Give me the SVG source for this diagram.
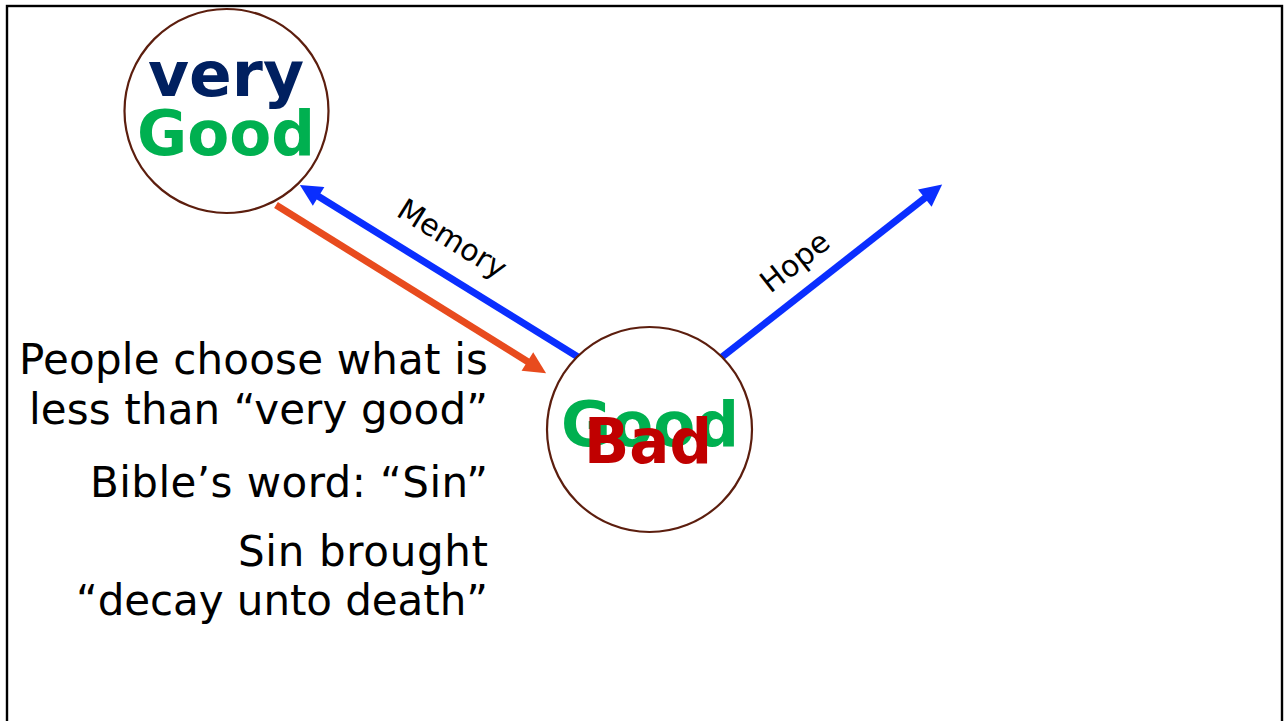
<svg xmlns="http://www.w3.org/2000/svg" width="1286" height="721" viewBox="0 0 1286 721">
  <style>
    .node { fill: #ffffff; stroke: #5c1e0e; stroke-width: 2.2; }
    .big { font-family: "DejaVu Sans", Verdana, sans-serif; font-weight: bold; font-size: 62px; text-anchor: middle; }
    .lbl { font-family: "DejaVu Sans", Verdana, sans-serif; font-size: 30px; fill: #000; text-anchor: middle; }
    .body { font-family: "DejaVu Sans", Verdana, sans-serif; font-size: 42px; fill: #000; text-anchor: end; }
    .blue { stroke: #0a2eff; stroke-width: 7; fill: none; }
    .orange { stroke: #e84b1e; stroke-width: 7; fill: none; }
  </style>
  <defs>
    <marker id="ahBlue" viewBox="0 0 10 10" refX="3" refY="5" markerWidth="24" markerHeight="22" markerUnits="userSpaceOnUse" orient="auto">
      <path d="M0,0 L10,5 L0,10 z" fill="#0a2eff"/>
    </marker>
    <marker id="ahOrange" viewBox="0 0 10 10" refX="3" refY="5" markerWidth="24" markerHeight="22" markerUnits="userSpaceOnUse" orient="auto">
      <path d="M0,0 L10,5 L0,10 z" fill="#e84b1e"/>
    </marker>
  </defs>
  <rect x="0" y="0" width="1286" height="721" fill="#ffffff"/>
  <rect x="7" y="6" width="1275" height="730" fill="none" stroke="#000" stroke-width="2.4"/>

  <g id="connectors">
    <line class="blue" x1="578" y1="357" x2="313" y2="193" marker-end="url(#ahBlue)"/>
    <line class="orange" x1="276" y1="205" x2="533" y2="365" marker-end="url(#ahOrange)"/>
    <line class="blue" x1="722" y1="357" x2="930" y2="194" marker-end="url(#ahBlue)"/>
    <text class="lbl" transform="translate(452,239) rotate(32)" y="10">Memory</text>
    <text class="lbl" transform="translate(795,262) rotate(-38)" y="10">Hope</text>
  </g>

  <g id="node-very-good">
    <circle class="node" cx="226.5" cy="111" r="102"/>
    <text class="big" x="226" y="96" fill="#002060" textLength="156" lengthAdjust="spacingAndGlyphs">very</text>
    <text class="big" x="226" y="155" fill="#00b050" textLength="178" lengthAdjust="spacingAndGlyphs">Good</text>
  </g>

  <g id="node-good-bad">
    <circle class="node" cx="649.5" cy="429.5" r="102.5"/>
    <text class="big" x="650" y="446" fill="#00b050" textLength="178" lengthAdjust="spacingAndGlyphs">Good</text>
    <text class="big" x="648" y="463" fill="#c00000" textLength="128" lengthAdjust="spacingAndGlyphs">Bad</text>
  </g>

  <g id="side-text">
    <text class="body" x="488" y="374" textLength="469">People choose what is</text>
    <text class="body" x="488" y="424" textLength="459">less than “very good”</text>
    <text class="body" x="488" y="497" textLength="398">Bible’s word: “Sin”</text>
    <text class="body" x="488" y="566" textLength="250">Sin brought</text>
    <text class="body" x="488" y="615" textLength="412">“decay unto death”</text>
  </g>
</svg>
